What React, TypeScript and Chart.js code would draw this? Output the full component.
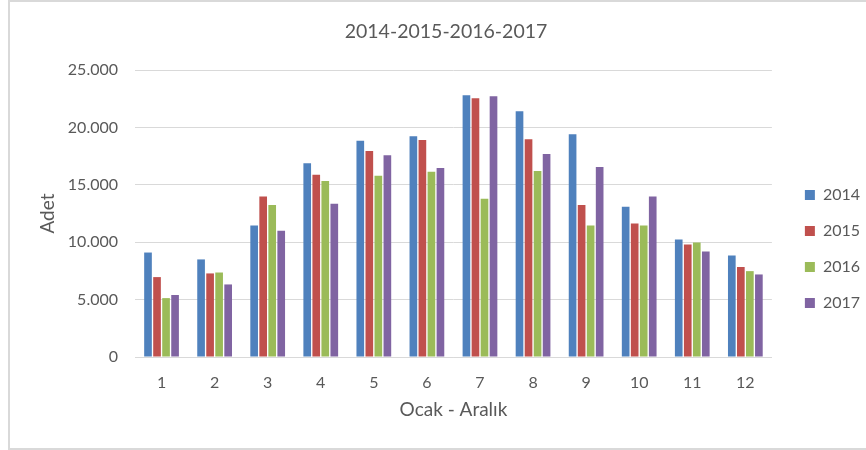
import React, { useEffect, useRef } from "react";
import { Chart, registerables } from "chart.js";

Chart.register(...registerables);

const months = ["1", "2", "3", "4", "5", "6", "7", "8", "9", "10", "11", "12"];
const seriesNames = ["2014", "2015", "2016", "2017"];
const values2014 = [9100, 8500, 11450, 16880, 18830, 19230, 22800, 21410, 19410, 13080, 10240, 8840];
const values2015 = [6960, 7280, 13980, 15870, 17950, 18910, 22540, 18970, 13250, 11630, 9800, 7830];
const values2016 = [5130, 7360, 13250, 15340, 15780, 16130, 13780, 16210, 11450, 11450, 9970, 7480];
const values2017 = [5400, 6320, 10990, 13340, 17580, 16470, 22710, 17690, 16560, 13980, 9190, 7190];
const colors = ["#4F81BD", "#C0504D", "#9BBB59", "#8064A2"];
const yMax = 25000;
const yStep = 5000;

const TEXT = "#595959";
const FONT = "Lato, 'Open Sans', sans-serif";

const fmt = (v: number) => String(v).replace(/\B(?=(\d{3})+(?!\d))/g, ".");

const legendShift = {
  id: "legendShift",
  afterLayout(chart: any) {
    const lg = chart.legend;
    if (lg) {
      lg.left += 13;
      lg.right += 13;
      lg.top += 24;
      lg.bottom += 24;
    }
  },
};

export default function App() {
  const ref = useRef<HTMLCanvasElement>(null);
  useEffect(() => {
    if (!ref.current) return;
    const all = [values2014, values2015, values2016, values2017];
    const chart = new Chart(ref.current, {
      type: "bar",
      data: {
        labels: months,
        datasets: seriesNames.map((n, i) => ({
          label: n,
          data: all[i],
          backgroundColor: colors[i],
          borderWidth: 0,
          categoryPercentage: 0.68,
          barPercentage: 0.85,
        })),
      },
      options: {
        animation: false,
        responsive: true,
        maintainAspectRatio: false,
        layout: { padding: { left: 35, right: 9, top: 0, bottom: 0 } },
        plugins: {
          title: {
            display: true,
            text: "2014-2015-2016-2017",
            color: TEXT,
            font: { family: FONT, size: 19.5, weight: "normal" },
            padding: { top: 20.3, bottom: 26.3 },
          },
          legend: {
            position: "right",
            labels: {
              color: TEXT,
              font: { family: FONT, size: 16 },
              boxWidth: 10,
              boxHeight: 10,
              padding: 20,
            },
          },
          tooltip: { enabled: false },
        },
        scales: {
          x: {
            grid: { display: false, drawTicks: false },
            border: { display: true, color: "#d9d9d9", width: 1 },
            ticks: { color: TEXT, font: { family: FONT, size: 16 }, padding: 16 },
            title: {
              display: true,
              text: "Ocak - Aralık",
              color: TEXT,
              font: { family: FONT, size: 19 },
              padding: { top: 0, bottom: 29.2 },
            },
            afterFit: (s: any) => {
              s.height = 93;
            },
          },
          y: {
            min: 0,
            max: yMax,
            grid: { color: "#d9d9d9", drawTicks: false },
            border: { display: false },
            ticks: {
              stepSize: yStep,
              color: TEXT,
              font: { family: FONT, size: 16 },
              padding: 17,
              callback: (v: any) => fmt(Number(v)),
            },
            title: {
              display: true,
              text: "Adet",
              color: TEXT,
              font: { family: FONT, size: 19 },
              padding: { top: 1.6, bottom: 0 },
            },
            afterFit: (s: any) => {
              s.width = 100;
            },
          },
        },
      },
      plugins: [legendShift],
    });
    return () => chart.destroy();
  }, []);

  return (
    <>
      <div
        style={{
          position: "fixed",
          left: 8,
          top: 0,
          width: 900,
          height: 446,
          borderLeft: "2px solid #d9d9d9",
          borderTop: "2px solid #d9d9d9",
          borderBottom: "2px solid #d9d9d9",
          background: "#fff",
        }}
      />
      <div style={{ position: "fixed", left: 0, top: 0, width: 866, height: 450 }}>
        <canvas ref={ref} />
      </div>
    </>
  );
}
